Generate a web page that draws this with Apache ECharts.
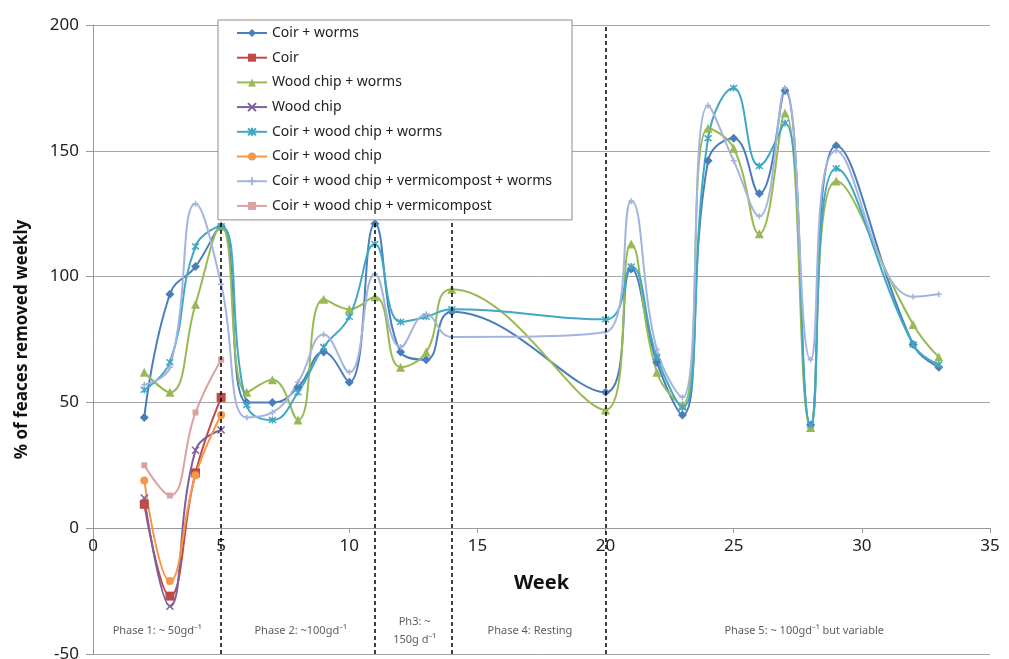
<!DOCTYPE html>
<html>
<head>
<meta charset="utf-8">
<script src="https://cdn.jsdelivr.net/npm/echarts@6/dist/echarts.min.js"></script>
<style>html,body{margin:0;padding:0;background:#fff}#c{width:1009px;height:659px}</style>
</head>
<body>
<div id="c"></div>
<script>
// ---- data ----
const phase1Weeks = [2, 3, 4, 5];
const wormWeeks = [2, 3, 4, 5, 6, 7, 8, 9, 10, 11, 12, 13, 14, 20, 21, 22, 23, 24, 25, 26, 27, 28, 29, 32, 33];

const coirWorms       = [44, 93, 104, 120, 50, 50, 56, 70, 58, 121, 70, 67, 86, 54, 103, 66, 45, 146, 155, 133, 174, 41, 152, 73, 64];
const coir            = [9.5, -27, 22, 52];
const woodChipWorms   = [62, 54, 89, 120, 54, 59, 43, 91, 87, 92, 64, 70, 95, 47, 113, 62, 49, 159, 151, 117, 165, 40, 138, 81, 68];
const woodChip        = [12, -31, 31, 39];
const coirWcWorms     = [55, 66, 112, 120, 49, 43, 54, 72, 84, 113, 82, 84, 87, 83, 104, 68, 48, 155, 175, 144, 161, 41, 143, 73, 65];
const coirWc          = [19, -21, 21, 45];
const coirWcVermWorms = [57, 64, 129, 97, 44, 46, 58, 77, 62, 101, 72, 85, 76, 78, 130, 71, 52, 168, 146, 124, 175, 67, 150, 92, 93];
const coirWcVerm      = [25, 13, 46, 67];

const seriesNames = ['Coir + worms', 'Coir', 'Wood chip + worms', 'Wood chip',
  'Coir + wood chip + worms', 'Coir + wood chip',
  'Coir + wood chip + vermicompost + worms', 'Coir + wood chip + vermicompost'];

const phaseBoundaries = [5, 11, 14, 20];
const phaseLabels = [
  [2.5, -41, 'Phase 1: ~ 50gd⁻¹'],
  [8.1, -41, 'Phase 2: ~100gd⁻¹'],
  [12.55, -41, 'Ph3: ~\n150g d⁻¹'],
  [17.05, -41, 'Phase 4: Resting'],
  [27.75, -41, 'Phase 5: ~ 100gd⁻¹ but variable']
];
const yTicks = { min: -50, max: 200, step: 50 };
const xTicks = { min: 0, max: 35, step: 5 };

// ---- styles ----
const FONT = 'Noto Sans';
const X_PATH = 'path://M0,0L10,10M10,0L0,10';
const STAR_PATH = 'path://M0,0L10,10M10,0L0,10M5,-1L5,11';
const PLUS_PATH = 'path://M5,0L5,10M0,5L10,5';
const DASH_PATH = 'path://M0,4L10,4L10,6L0,6Z';

const GRID = { left: 93, right: 19, top: 25, bottom: 5 };
const PLOT_H = 659 - GRID.top - GRID.bottom;
// shift x axis up so it sits on y = 0
const X_OFFSET = -Math.round(PLOT_H * (0 - yTicks.min) / (yTicks.max - yTicks.min));

function pairs(xs, ys) { return xs.map((x, i) => [x, ys[i]]); }

function lineSeries(name, xs, ys, color, symbol, size, bw) {
  return {
    name, type: 'line', data: pairs(xs, ys), smooth: 0.45,
    symbol, symbolSize: size,
    lineStyle: { color, width: 2 },
    itemStyle: { color, borderColor: color, borderWidth: bw == null ? 1.5 : bw },
    emphasis: { disabled: true },
    z: 3
  };
}

const series = [
  lineSeries(seriesNames[0], wormWeeks, coirWorms, '#4a7ebb', 'diamond', 9, 0),
  lineSeries(seriesNames[1], phase1Weeks, coir, '#be4b48', 'rect', 9, 0),
  lineSeries(seriesNames[2], wormWeeks, woodChipWorms, '#98b954', 'triangle', 9, 0),
  lineSeries(seriesNames[3], phase1Weeks, woodChip, '#7e5fa0', X_PATH, 7),
  lineSeries(seriesNames[4], wormWeeks, coirWcWorms, '#41a8c4', STAR_PATH, 7),
  lineSeries(seriesNames[5], phase1Weeks, coirWc, '#f79646', 'circle', 8, 0),
  lineSeries(seriesNames[6], wormWeeks, coirWcVermWorms, '#a5b4de', PLUS_PATH, 6),
  lineSeries(seriesNames[7], phase1Weeks, coirWcVerm, '#dba2a1', DASH_PATH, 6, 0)
];

series.push({
  name: 'phase-lines', type: 'line', data: [], silent: true,
  markLine: {
    silent: true, symbol: 'none',
    lineStyle: { color: '#000', type: [4, 3], width: 1.5 },
    label: { show: false },
    data: phaseBoundaries.map(v => ({ xAxis: v }))
  }
});

series.push({
  name: 'phase-labels', type: 'scatter', symbolSize: 0, silent: true,
  data: phaseLabels,
  label: {
    show: true, position: 'inside', color: '#333', fontSize: 11, fontFamily: FONT,
    lineHeight: 18, align: 'center',
    formatter: p => p.value[2]
  },
  z: 5
});

const chart = echarts.init(document.getElementById('c'), null, { renderer: 'canvas' });
chart.setOption({
  animation: false,
  backgroundColor: '#fff',
  grid: Object.assign({ containLabel: false, outerBoundsMode: 'none' }, GRID),
  legend: {
    data: seriesNames,
    orient: 'vertical', left: 218, top: 20,
    backgroundColor: '#fff', borderColor: '#8c8c8c', borderWidth: 1,
    padding: [6, 20, 7, 18],
    itemGap: 10.7, itemWidth: 30, itemHeight: 10,
    textStyle: { fontFamily: FONT, fontSize: 14, color: '#222' },
    z: 10
  },
  xAxis: {
    type: 'value', min: xTicks.min, max: xTicks.max, interval: xTicks.step,
    position: 'bottom', offset: X_OFFSET,
    name: 'Week', nameLocation: 'middle', nameGap: 45,
    nameTextStyle: { fontFamily: FONT, fontSize: 20, fontWeight: 'bold', color: '#111' },
    axisLine: { onZero: false, lineStyle: { color: '#999', width: 1 } },
    axisTick: { show: true, length: 5, lineStyle: { color: '#999' } },
    axisLabel: { fontFamily: FONT, fontSize: 17, color: '#222', margin: 10 },
    splitLine: { show: false }
  },
  yAxis: {
    type: 'value', min: yTicks.min, max: yTicks.max, interval: yTicks.step,
    name: '% of feaces removed weekly', nameLocation: 'middle', nameGap: 62, nameRotate: 90,
    nameTextStyle: { fontFamily: FONT, fontSize: 17, fontWeight: 'bold', color: '#111' },
    axisLine: { show: true, onZero: false, lineStyle: { color: '#999', width: 1 } },
    axisTick: { show: true, length: 7, lineStyle: { color: '#999' } },
    axisLabel: { fontFamily: FONT, fontSize: 17, color: '#222', margin: 14 },
    splitLine: { show: true, lineStyle: { color: '#a6a6a6', width: 1 } }
  },
  series
});
</script>
</body>
</html>
